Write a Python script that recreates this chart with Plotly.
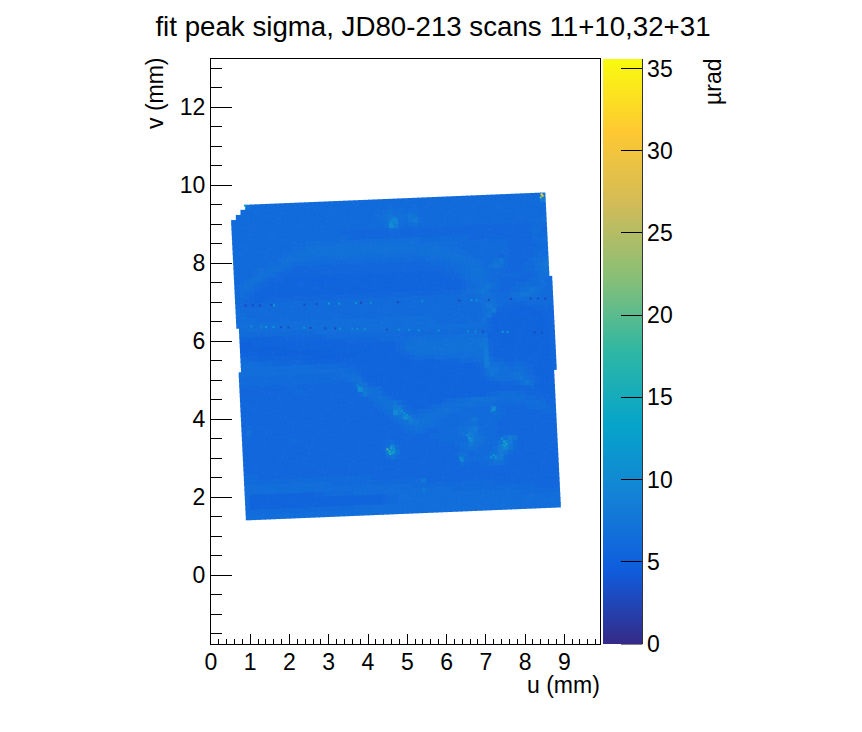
import plotly.graph_objects as go

TITLE = "fit peak sigma, JD80-213 scans 11+10,32+31"
X_TICKS = [0, 1, 2, 3, 4, 5, 6, 7, 8, 9]
Y_TICKS = [0, 2, 4, 6, 8, 10, 12]
Z_TICKS = [0, 5, 10, 15, 20, 25, 30, 35]

# ROOT kBird palette
BIRD = [
    [0.000, "rgb(53,42,135)"], [0.125, "rgb(15,92,221)"], [0.250, "rgb(20,129,214)"],
    [0.375, "rgb(6,164,202)"], [0.500, "rgb(46,183,164)"], [0.625, "rgb(135,191,119)"],
    [0.750, "rgb(209,187,89)"], [0.875, "rgb(254,200,50)"], [1.000, "rgb(249,251,14)"],
]

# sigma in urad for each letter used in SIGMA_ROWS
LEVELS = {"a": 5.0, "b": 5.4, "c": 5.8, "d": 6.2, "e": 6.6, "f": 7.0, "g": 7.5, "h": 8.0,
          "i": 9.0, "j": 10.0, "k": 12.0, "l": 14.0, "m": 17.0, "n": 20.0, "o": 27.0}

# one string per scan row, one letter per scan column, "." = no data
SIGMA_ROWS = [
    "...gdddd dddddddd dddddddd dddddddd dddddddd dddddddd dddddddd dddddddg",
    "..dddddd dddddddd dddddddd dddddddd eddddedd dddddddd dddddddd dddddddh",
    ".ddddddd dddddddd dddddddd ddddddde feedeedd dddddddd dddddddd dddddddd",
    "dddddddd dddddddd dddddddd dddddeef geefgfdd dddddddd dddddddd dddddddd",
    "dddddddd dddddddd dddddddd ddddddef hieeghed dddddddd dddddddd dddddddd",
    "dddddddd dddddddd dddddddd ddddddde jhedefdd dddddddd dddddddd ddddddde",
    "dddddddd dddddddd ddddddcc cccccccc ddcccccc cccccccc cccccccc cccccddd",
    "dddddddd dddddddd dddddddd cccccccc cccccccc cccccccc cccccccc ccccdedc",
    "dddddddd ddddddde eeeeeeee eeeeeeee eeeeeedd dddddddd cccccccc cccccddd",
    "dddddddd ddddeeef ffffffff ffffffff fffffeee eeeeeedd dddddddd cccccdde",
    "dddddddd ddeeefff ffffffff ffffffff ffffffff ffeeeedd dddddddd ccccccdd",
    "dddddddd deefffee eeeeeeee eeeeeeee eeeeeeff ffffeeee dddddddd cccccdde",
    "ddddddde eefedddd dddddddd dddddddd ddddddde eeeffffe edddddcd cccccded",
    "dddddeef feddcccc cccccccc cccccccc cccccccc ddddeeff feeddfgd ccccdeef",
    "ddddeffe dccccccc cccccccc cccccccc cccccccc cccddeef ffedfgfd cccddefg",
    "ddeffedc ccbbbbbb bbbbbbbb bbbbbbbb bbbbbbbb bbcccdee fffedddc cccddeff",
    "defedccb bbbbbcbb bbbbbbbb bbbbbbbb bbbbbbbb bbbbccde effedddd ddcccdef",
    "deedcbbb bbbbbbbb cbbbbbbb bbbbbbbb bbbbbbbb bbbbbbcd eefeddcc ccccddee d",
    "dedcbbbb bbbbbbbb bbbbbbbb bbbbbbbb bbbbbbbb bbbbbbcd defgedcc cddeddee d",
    "ddccbbcc cccccccc cccccccc cccccccc cccccccc ccccccde efgfddcc ddefgfed d",
    "ddcccddd dddddddd dddddddd dddddddd dddddddd dddddddd deffeddd efggfedd d",
    "eddddddd dddddddd dddddddd dddddddd dddddddd dddddddd deeffddd deeedddd d",
    "eedddddd dddddddd dddddddd dddddddd dddddddd dddddddd ddegfddc cccddddd d",
    "eeeedddd dddddddd dddddddd dddddddd dddddddd dddddddd ddefhcbb bbbbbccd c",
    "eeeeeeee eeeeeeee eeeeeeee eeeeeeee eeeeeeee dddddddd ddegcbbb bbbbbbcc c",
    "eeeeeeee eeeeeeee eeeeeeee eeeeeeee eeeeeeee edddddde ddfcbbbb bbbbbbbc c",
    "dddddddd dddddddd eeeeeeee eeeeeeee eeeeeeee eeeeeeee eeecbbbb bbbbbbbb c",
    "bbbbbbbb bbcccccc ccdddddd dddddddd dddddddd dddddddd dddcbbbb bbbbbbbb c",
    "aaabbbbb bbbbbbbb bbbbbbcc cccccddd dddeeeee eeeeeeee eeebbbbb bbbbbbbb c",
    "aaaaaaaa aabbbbbb bbbbbbbb bbbbbbbb cdefffff ffffffff ffgcbbbb bbbbbbbb c",
    "bbbbaaaa aaaaaaaa aaabbbbb bbbbbbbb cdffffff ffffffff fggcbbbb bbbbbbbb c",
    "ddccbbbb bbbbbbba aaaaaaaa bbbbbbbb bcdeffff ffffffff ffhcbbbb bbbbbbbb c",
    "eeeedddc cccccbbb bbbbbbbb bbbbbbbb bbbcdddd eeeeeeee ffhcbbbb bbbbbbbb c",
    "eeeeeeee eeeeeedd dddddccc bbbbbbbb bbbbbbbb bccccddd deheccbb cbbcbbbb c",
    "eeeeeeee eeeeeeee eeeeeedd cbbbbbbb bbbbbbbb bbbbbbbb cdhfeedc ddcbbbbb c",
    "dddddddd dddddddd dddddeef dbbbbbbb bbbbbbbb bbbbbbbb bcfggeed eedcbbbb c",
    "dddddddd dddddddd ddddddef fcbbbbbb bbbbbbbb bbbbbbbb bcegfeef ffdcbbbb",
    "cccccccc ccddcccc cccccccd ffcbbbbb bbbbbbbb bbbbbbbb bbcdeeee fgedcbbb",
    "cccccccc cccddccc cccccccc jgfedbbb bbbbbbbb bbbbbbbb bbbbbccc degfcbbb",
    "cccccccc cccccccc cccccccc dhfeecbb bbbbbbbb bbbbbbbb bbbbbbbb bccdbbbb",
    "cccccccc cccccccc cccccccc ccdeffdc bbbbbbbb bbbbbbbb bbcddeee ddcccbbb",
    "cccccccc cccccccc cccccccc cccdeffg dcbbbbbb bcddeeef ffffeeee eeddcccb",
    "cccccccc cccccccc cccccccc ccccdefh gdcbbbcd deeeffff eeeddddd ddeeedcc",
    "cccccccc cccccccc cccccccc cccccdej hedcddee fffeeddd dddidccc ccddeedc",
    "cccccccc cccccccc cccccccc ccccccde gjgeefff eedddddd dddeddcc cccccddd",
    "cdcccccc cccccccc cccccccc cccccccd efhgfffe ddddddeg dddddccc cccccccc",
    "cfcccccc cccccccc cccccccc cccccccc defffeed dddddeef ddddcccc cccccccc",
    "cdcccccc cccccccc cccccccc cccccccc cddeedcc ddddefgh edddcccc cccccccc",
    "cccccccc ccdccccc cccccccc cccccccc ccccccdd ddddefhg edddcccc cccccccc",
    "cccccccc cccccccc cccccccc cccccdec cccccccc ddddddig fedddfhg cccccccc",
    "cccccccc cccccccc cccccccc ccccceie cccccccc cccdefhf edddgihd cccccccc",
    "cccccccc cccccccc cccccccc cccccgig cccccccc ccccdefe dddfhigd cccccccc",
    "cccccccc cccccccc cccccccc cccccegd cccccccc cccdfecd ddefhgdc cccccccc",
    "cccccccc cccccccc cccccccc cccccccc cccccccc cccchedd defhhdcc cccccccc",
    "cccccccc cccccccc cccccccc cccccccc cccccccc ccccedcc ddeffdcc cccccccc",
    "dddccccc cccccccc cccccccc cccccccc cccccccc cccccccc cccccccc cccccccc",
    "dddddddd dddddddd dddddddd ddcccccc cccccccc cccccccc cccccccc cccccccc",
    "eeeeeeee eeeeeeee eedddddd dddddddd ddddgccc cccccccc cccccccc cccccccc",
    "eeeeeeee eeeeeeee eeeeeeee eeeeeeee eedddddd dddddddd dddccccc cccccccc",
    "ebbbbbbb bbbbbbcc ddddddee eeeeeeee eeeegeee eedddddd dddddddd dddccccc",
    "dbbbbbbb bbbbbbbb bbbbbbbb bbbbcdde eeeeeeee eeeeeeee eeeeeeee dddddddd",
    "dabbbbbb bbbbbbbb bbbbbbbb bbbbcdde eeeeeeee eeeeeeee eeeeeeee eeeeeeee",
    "dddddddd dddddddd ddddddee eeeeeeee eeeeeeee eeeeeeee eeeeeeee eeeeeeee",
    "eeeeeeee eeeeeeee eeeeeeee eeeeeeee eeeeeeee eeeeeeee eeeeeeee eeeeeeee",
]

# single odd pixels: the two seam rows, then the small hot spots, in scan column / row units
SPECK_COL = [2, 3.5, 5, 7.3, 7.8, 14, 16.5, 19, 21, 24.5, 25.5, 27.5, 33, 38, 45.5, 48, 49, 51.5, 56, 60, 61.5, 63,
             3, 5, 6, 7.5, 9, 10.5, 13.7, 15, 18, 20, 21, 23.5, 24.5, 26, 30.5, 33, 35, 37, 41, 47, 48.5, 50, 54, 55, 60.5, 62,
             63.3, 63.5, 63.1, 2.9,
             29.4, 29.8, 30.2, 30.6, 29.9, 30.3, 30.8, 30.1, 29.6,
             52.8, 53.2, 53.6, 53.3, 52.9, 50.4, 50.9, 51.3, 44.1, 44.4,
             32.2, 32.7, 33.2, 33.7, 34.2, 34.6, 24.0, 24.3, 24.7,
             45.8, 46.1, 46.5, 51.0, 51.4, 32.1, 32.5, 32.9, 33.3]
SPECK_ROW = [20.4, 20.4, 20.5, 20.5, 20.6, 20.7, 20.7, 20.7, 20.8, 20.8, 20.8, 20.9, 21.0, 21.0, 21.2, 21.2, 21.2, 21.3, 21.3, 21.4, 21.4, 21.5,
             24.7, 24.8, 24.9, 25.0, 25.1, 25.2, 25.4, 25.5, 25.7, 25.8, 25.9, 26.0, 26.1, 26.2, 26.5, 26.6, 26.7, 26.9, 27.1, 27.5, 27.6, 27.7, 27.9, 28.0, 28.3, 28.4,
             0.3, 0.6, 0.9, 0.1,
             50.8, 51.2, 50.6, 51.4, 51.8, 51.6, 50.9, 50.3, 51.5,
             49.6, 50.2, 50.7, 51.1, 50.9, 53.3, 52.9, 53.4, 53.2, 53.7,
             42.6, 43.1, 43.6, 44.0, 44.5, 45.0, 37.6, 38.2, 38.7,
             48.6, 49.2, 49.7, 43.9, 43.5, 5.1, 4.7, 4.2, 3.8]
SPECK_SIGMA = [2.5, 3, 2.5, 3, 13, 2.5, 3, 13, 12, 11, 2.5, 11, 2.5, 11, 2.5, 12, 11, 2.5, 2.5, 3, 3, 2.5,
               11, 10, 13, 12, 3, 3, 12, 2.5, 3, 2.5, 11, 10, 10, 11, 3, 11, 11, 12, 11, 11, 11, 2.5, 13, 12, 2.5, 3,
               34, 30, 22, 14,
               19, 17, 15, 14, 16, 13, 12, 11, 12,
               13, 14, 15, 13, 12, 12, 13, 11, 11, 12,
               10, 12, 12, 11, 10, 9.5, 11, 12, 10,
               11, 12, 11, 11, 12, 11, 12, 11, 10]

# sample stage frame: corner position and edge vectors of the scan grid, mm
U0, V0 = 0.50, 9.477
COL_DU, COL_DV = 8.008 / 64, 0.333 / 64
ROW_DU, ROW_DV = 0.398 / 64, -8.059 / 64


def to_uv(col, row):
    return U0 + col * COL_DU + row * ROW_DU, V0 + col * COL_DV + row * ROW_DV


u, v, sigma = [], [], []
for r, line in enumerate(SIGMA_ROWS):
    for c, ch in enumerate(line.replace(" ", "")):
        if ch not in LEVELS:
            continue
        col = c + 0.5
        if c == 64:
            col = c + 0.05  # the stitched scan only sticks out about half a cell on the right
        if c == 0 and 25 <= r <= 33:
            col = c + 1.0  # same on the left below the seam
        pu, pv = to_uv(col, r + 0.5)
        u.append(pu)
        v.append(pv)
        sigma.append(LEVELS[ch])

speck_u, speck_v = zip(*[to_uv(c, r) for c, r in zip(SPECK_COL, SPECK_ROW)])

fig = go.Figure()
fig.add_trace(go.Scatter(x=u, y=v, mode="markers", hoverinfo="skip",
                         marker=dict(symbol="square", size=5.6, color=sigma, coloraxis="coloraxis", line_width=0)))
fig.add_trace(go.Scatter(x=list(speck_u), y=list(speck_v), mode="markers", hoverinfo="skip",
                         marker=dict(symbol="square", size=2, color=SPECK_SIGMA, coloraxis="coloraxis", line_width=0)))

FONT = "Liberation Sans"
# page body adds 8 px on each side of the 846x716 figure
fig.update_layout(
    width=846, height=716, showlegend=False,
    paper_bgcolor="white", plot_bgcolor="white",
    margin=dict(l=203, r=254, t=51, b=80, autoexpand=False),
    font=dict(family=FONT, size=23, color="black"),
    title=dict(text=TITLE, x=425 / 846, xanchor="center", xref="container", y=1 - 18 / 716, yanchor="middle",
               font=dict(family=FONT, size=27.7)),
    coloraxis=dict(cmin=0, cmax=35.58, colorscale=BIRD,
                   colorbar=dict(x=1.0085, xanchor="left", xpad=0, y=0, yanchor="bottom", ypad=0, len=1,
                                 thickness=39, thicknessmode="pixels", outlinewidth=0,
                                 tickmode="array", tickvals=Z_TICKS, ticks="inside", ticklen=21,
                                 tickcolor="black", tickwidth=1,
                                 tickfont=dict(family=FONT, size=23, color="black"))),
)
fig.update_xaxes(range=[0, 9.91], tickmode="array", tickvals=X_TICKS, ticks="inside", ticklen=10, tickwidth=1,
                 tickcolor="black", showline=True, linecolor="black", linewidth=1, mirror=True,
                 showgrid=False, zeroline=False, ticklabelstandoff=-3,
                 minor=dict(dtick=0.2, ticks="inside", ticklen=5, tickcolor="black", tickwidth=1, showgrid=False))
fig.update_yaxes(range=[-1.76, 13.24], tickmode="array", tickvals=Y_TICKS, ticks="inside", ticklen=21, tickwidth=1,
                 tickcolor="black", showline=True, linecolor="black", linewidth=1, mirror=True,
                 showgrid=False, zeroline=False,
                 minor=dict(dtick=0.5, ticks="inside", ticklen=11, tickcolor="black", tickwidth=1, showgrid=False))


def px(x):
    return (x - 211) / 389


def py(y):
    return (644 - y) / 585


fig.add_annotation(text="u (mm)", xref="paper", yref="paper", x=px(602), y=py(685), xanchor="right", yanchor="middle",
                   showarrow=False, font=dict(family=FONT, size=23))
fig.add_annotation(text="v (mm)", xref="paper", yref="paper", x=px(155), y=py(93), xanchor="center", yanchor="middle",
                   textangle=-90, showarrow=False, font=dict(family=FONT, size=23))
fig.add_annotation(text="µrad", xref="paper", yref="paper", x=px(713), y=py(82), xanchor="center", yanchor="middle",
                   textangle=-90, showarrow=False, font=dict(family=FONT, size=23))
# right edge and foot of the palette
fig.add_shape(type="line", xref="paper", yref="paper", x0=px(642.3), x1=px(642.3), y0=0, y1=1,
              line=dict(color="black", width=1))
fig.add_shape(type="line", xref="paper", yref="paper", x0=px(621), x1=px(642.3), y0=0, y1=0,
              line=dict(color="black", width=1))

fig.write_html("out.html")
